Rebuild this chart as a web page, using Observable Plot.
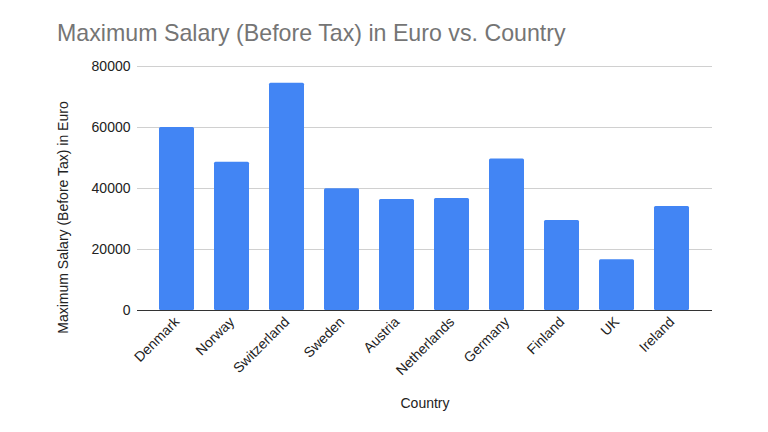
<!DOCTYPE html>
<html>
<head>
<meta charset="utf-8">
<script src="https://cdn.jsdelivr.net/npm/d3@7"></script>
<script src="https://cdn.jsdelivr.net/npm/@observablehq/plot@0.6"></script>
<style>
  body { margin: 0; background: #fff; font-family: "Liberation Sans", Arial, sans-serif; }
  #title { height: 50px; box-sizing: border-box; padding: 19px 0 0 57px; font-size: 23.2px; color: #757575; line-height: 28px; white-space: nowrap; }
  #chart svg { display: block; }
</style>
</head>
<body>
<div id="title">Maximum Salary (Before Tax) in Euro vs. Country</div>
<div id="chart"></div>
<script>
const countries = ["Denmark", "Norway", "Switzerland", "Sweden", "Austria", "Netherlands", "Germany", "Finland", "UK", "Ireland"];
const salaries = [60000, 48600, 74500, 39900, 36400, 36700, 49700, 29500, 16600, 34100];
const yTicks = [0, 20000, 40000, 60000, 80000];
const yLabel = "Maximum Salary (Before Tax) in Euro";
const xLabel = "Country";

const data = countries.map((c, i) => ({country: c, salary: salaries[i]}));

const chart = Plot.plot({
  width: 768,
  height: 382,
  marginTop: 16,
  marginBottom: 122,
  marginLeft: 137,
  marginRight: 56,
  style: {fontFamily: "'Liberation Sans', Arial, sans-serif", fontSize: "14px", color: "#222", background: "#fff"},
  x: {domain: countries, padding: 0.36, label: null, tickRotate: -45, tickSize: 0, tickPadding: 9},
  y: {domain: [0, 80000], ticks: yTicks, tickFormat: d => String(d), label: null, tickSize: 0, tickPadding: 7},
  marks: [
    Plot.gridY(yTicks, {stroke: "#d0d0d0", strokeOpacity: 1}),
    Plot.barY(data, {x: "country", y: "salary", fill: "#4285F4", rx: 1.5}),
    Plot.ruleY([0], {stroke: "#333", strokeWidth: 1.2}),
    Plot.text([yLabel], {text: d => d, frameAnchor: "left", textAnchor: "middle", lineAnchor: "middle", rotate: -90, dx: -74, dy: 29, fontSize: 14, fill: "#222"}),
    Plot.text([xLabel], {text: d => d, frameAnchor: "bottom", dy: 97, fontSize: 14, fill: "#222"})
  ]
});
document.getElementById("chart").appendChild(chart);
</script>
</body>
</html>
